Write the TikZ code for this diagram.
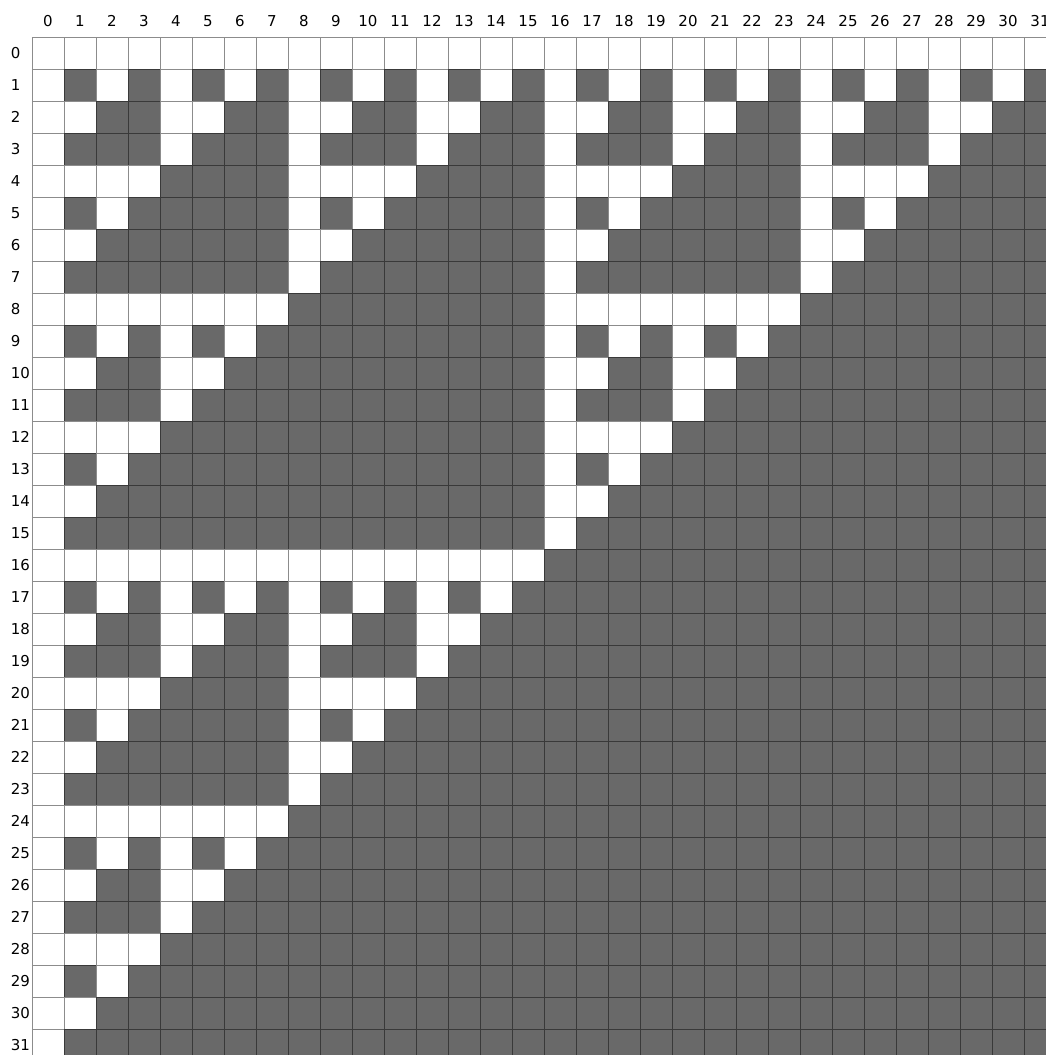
\documentclass[tikz,border=0pt]{standalone}
\usepackage{fontspec}
\setmainfont{DejaVu Sans}
\definecolor{cellgray}{RGB}{105,105,105}

\begin{document}
\begin{tikzpicture}[
        x=32pt, y=-32pt,
        cell/.style={fill=cellgray},
        gridline/.style={draw=black, line width=0.8pt, opacity=0.45},
        colidx/.style={font=\fontsize{15}{15}\selectfont, inner sep=0pt, anchor=center},
        rowidx/.style={font=\fontsize{15}{15}\selectfont, inner sep=0pt, anchor=west}
    ]
    \useasboundingbox (-1,-1.15625) rectangle (31.6875,31.8125);
    % dark cell where row AND column share a bit
    \foreach \i in {0,...,31} {
        \foreach \j in {0,...,31} {
            \pgfmathtruncatemacro\hit{mod(\i,2)*mod(\j,2)
                + mod(floor(\i/2),2)*mod(floor(\j/2),2)
                + mod(floor(\i/4),2)*mod(floor(\j/4),2)
                + mod(floor(\i/8),2)*mod(floor(\j/8),2)
                + mod(floor(\i/16),2)*mod(floor(\j/16),2)}
            \ifnum\hit>0 \fill[cell] (\j,\i) rectangle ++(1,1); \fi
        }
    }
    \draw[gridline] \foreach \k in {0,...,32} {(\k,0) -- (\k,32) (0,\k) -- (32,\k)};
    % indices
    \foreach \k in {0,...,31} {
        \node[colidx] (col-\k) at (\k+0.5,-0.5) {\k};
        \node[rowidx] (row-\k) at (-0.67,\k+0.5) {\k};
    }
\end{tikzpicture}
\end{document}
